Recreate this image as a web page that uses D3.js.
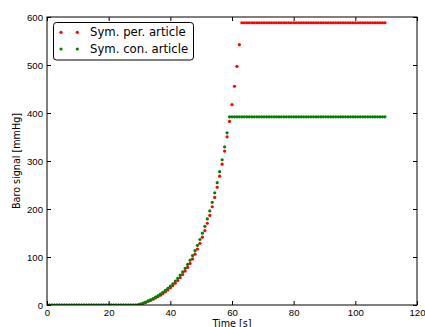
<!DOCTYPE html>
<html>
<head>
<meta charset="utf-8">
<script src="https://cdn.jsdelivr.net/npm/d3@7"></script>
<style>
  html, body { margin: 0; padding: 0; background: #fff; }
  svg { display: block; font-family: "DejaVu Sans", sans-serif; }
</style>
</head>
<body>
<svg id="chart" width="425" height="327"></svg>
<script>
// Sampling grid: one sample every 0.8 s, 138 samples
const sampleStep = 0.8;
const sampleCount = 138;

// Baro signal, sympathetic peripheral (mmHg)
const symPer = [
  0, 0, 0, 0, 0, 0, 0, 0, 0, 0, 0, 0, 0, 0, 0, 0, 0, 0, 0, 0,
  0, 0, 0, 0, 0, 0, 0, 0, 0, 0, 0, 0, 0, 0, 0, 0, 0,
  0.3, 1.9, 3.6, 5.4, 7.4, 9.6, 12.0, 14.6, 17.4, 20.5, 23.8, 27.4, 31.4, 35.7,
  40.4, 45.4, 51.0, 57.0, 63.5, 70.6, 78.3, 86.7, 95.9, 105.8, 116.6, 128.4,
  141.2, 155.1, 170.3, 186.7, 204.7, 224.1, 245.3, 268.4, 293.4, 320.7, 350.3,
  382.5, 417.5, 455.7, 497.2, 542.3,
  588, 588, 588, 588, 588, 588, 588, 588, 588, 588, 588, 588, 588, 588, 588,
  588, 588, 588, 588, 588, 588, 588, 588, 588, 588, 588, 588, 588, 588, 588,
  588, 588, 588, 588, 588, 588, 588, 588, 588, 588, 588, 588, 588, 588, 588,
  588, 588, 588, 588, 588, 588, 588, 588, 588, 588, 588, 588, 588, 588
];

// Baro signal, sympathetic central (mmHg)
const symCon = [
  0, 0, 0, 0, 0, 0, 0, 0, 0, 0, 0, 0, 0, 0, 0, 0, 0, 0, 0, 0,
  0, 0, 0, 0, 0, 0, 0, 0, 0, 0, 0, 0, 0, 0, 0, 0, 0,
  0.3, 2.1, 4.0, 6.1, 8.4, 10.8, 13.5, 16.3, 19.4, 22.8, 26.5, 30.4, 34.7, 39.3,
  44.3, 49.8, 55.7, 62.1, 69.0, 76.5, 84.6, 93.4, 102.9, 113.2, 124.4, 136.5,
  149.6, 163.9, 179.3, 195.9, 214.0, 233.6, 254.8, 277.7, 302.6, 329.6, 358.8,
  392, 392, 392, 392, 392, 392, 392, 392, 392, 392, 392, 392, 392, 392, 392, 392,
  392, 392, 392, 392, 392, 392, 392, 392, 392, 392, 392, 392, 392, 392, 392, 392,
  392, 392, 392, 392, 392, 392, 392, 392, 392, 392, 392, 392, 392, 392, 392, 392,
  392, 392, 392, 392, 392, 392, 392, 392, 392, 392, 392, 392, 392, 392, 392, 392
];

const seriesNames = ["Sym. per. article", "Sym. con. article"];
const seriesColors = ["#ff0000", "#008000"];
const xTicks = [0, 20, 40, 60, 80, 100, 120];
const yTicks = [0, 100, 200, 300, 400, 500, 600];
const xLabel = "Time [s]";
const yLabel = "Baro signal [mmHg]";

const times = d3.range(sampleCount).map(i => i * sampleStep);

const svg = d3.select("#chart");
const plot = { left: 47, right: 417, top: 17, bottom: 305 };

const x = d3.scaleLinear().domain([0, 120]).range([plot.left, plot.right]);
const y = d3.scaleLinear().domain([0, 600]).range([plot.bottom, plot.top]);

svg.append("defs").append("clipPath").attr("id", "plot-clip")
  .append("rect")
  .attr("x", plot.left).attr("y", plot.top)
  .attr("width", plot.right - plot.left).attr("height", plot.bottom - plot.top);

// Data points, clipped to the axes area
const dotsLayer = svg.append("g").attr("clip-path", "url(#plot-clip)");
[symPer, symCon].forEach((vals, k) => {
  dotsLayer.append("g")
    .selectAll("circle")
    .data(vals.map((v, i) => [times[i], v]))
    .join("circle")
    .attr("cx", d => x(d[0]))
    .attr("cy", d => y(d[1]))
    .attr("r", 1.6)
    .attr("fill", seriesColors[k]);
});

// Axes with inward ticks on all four sides
const tickFont = "9.6px";
const bottomAxis = d3.axisBottom(x).tickValues(xTicks).tickSizeInner(-4).tickSizeOuter(0).tickPadding(4);
const topAxis = d3.axisTop(x).tickValues(xTicks).tickSizeInner(-4).tickSizeOuter(0).tickFormat("");
const leftAxis = d3.axisLeft(y).tickValues(yTicks).tickSizeInner(-4).tickSizeOuter(0).tickPadding(4);
const rightAxis = d3.axisRight(y).tickValues(yTicks).tickSizeInner(-4).tickSizeOuter(0).tickFormat("");

function styleAxis(g) {
  g.select(".domain").remove();
  g.selectAll(".tick line").attr("stroke", "#000").attr("stroke-width", 1);
  g.selectAll(".tick text").attr("fill", "#000").style("font-size", tickFont);
}

svg.append("g").attr("transform", `translate(0,${plot.bottom})`).call(bottomAxis).call(styleAxis);
svg.append("g").attr("transform", `translate(0,${plot.top})`).call(topAxis).call(styleAxis);
svg.append("g").attr("transform", `translate(${plot.left},0)`).call(leftAxis).call(styleAxis);
svg.append("g").attr("transform", `translate(${plot.right},0)`).call(rightAxis).call(styleAxis);

// Axes frame
svg.append("rect")
  .attr("x", plot.left).attr("y", plot.top)
  .attr("width", plot.right - plot.left).attr("height", plot.bottom - plot.top)
  .attr("fill", "none").attr("stroke", "#000").attr("stroke-width", 1);

// Axis titles
svg.append("text")
  .attr("x", (plot.left + plot.right) / 2).attr("y", 327)
  .attr("text-anchor", "middle")
  .style("font-size", "9.6px").attr("fill", "#000")
  .text(xLabel);

svg.append("text")
  .attr("transform", `translate(20,${(plot.top + plot.bottom) / 2}) rotate(-90)`)
  .attr("text-anchor", "middle")
  .style("font-size", "9.6px").attr("fill", "#000")
  .text(yLabel);

// Legend
const legend = svg.append("g");
legend.append("rect")
  .attr("x", 53.5).attr("y", 22.5).attr("width", 140).attr("height", 37.5)
  .attr("rx", 3).attr("ry", 3)
  .attr("fill", "#fff").attr("stroke", "#000").attr("stroke-width", 1);
seriesNames.forEach((name, k) => {
  const cy = 32.3 + k * 16.7;
  [61, 77.3].forEach(cx => {
    legend.append("circle").attr("cx", cx).attr("cy", cy).attr("r", 1.6).attr("fill", seriesColors[k]);
  });
  legend.append("text")
    .attr("x", 90).attr("y", cy)
    .attr("dy", "0.35em")
    .style("font-size", "11.7px").attr("fill", "#000")
    .text(name);
});
</script>
</body>
</html>
